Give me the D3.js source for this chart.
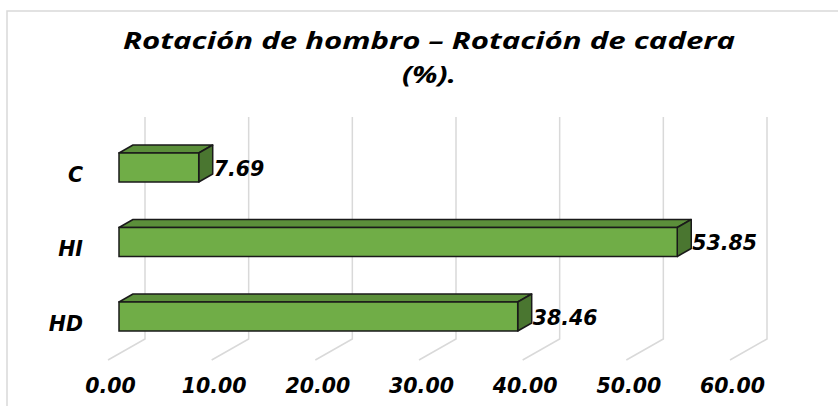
<!DOCTYPE html>
<html>
<head>
<meta charset="utf-8">
<script src="https://cdn.jsdelivr.net/npm/d3@7"></script>
<style>
  body { margin: 0; background: #fff; }
  svg { display: block; }
</style>
</head>
<body>
<svg width="838" height="406"></svg>
<script>
// datos
const categorias = ['C', 'HI', 'HD'];
const valores = [7.69, 53.85, 38.46];
const ticks = [0, 10, 20, 30, 40, 50, 60];
const titulo = ['Rotación de hombro – Rotación de cadera', '(%).'];

const svg = d3.select('svg');

// borde del area del grafico
svg.append('path')
  .attr('d', 'M7,406 L7,11 L838,11')
  .attr('fill', 'none')
  .attr('stroke', '#d9d9d9')
  .attr('stroke-width', 1.5);

// pared de fondo y profundidad
const depth = {dx: -37, dy: 21};
const barDepth = {dx: 14, dy: -8};
const wallTop = 117, wallBottom = 339;

const xBack = d3.scaleLinear().domain([0, 60]).range([145, 767]);
const xFloor = d3.scaleLinear().domain([0, 60]).range([145 + depth.dx, 767 + depth.dx]);
const xBar = d3.scaleLinear().domain([0, 60]).range([119, 119 + 622]);

const y = d3.scalePoint().domain(categorias).range([167.5, 316.5]);
const barH = 29;

const fuente = 'italic bold 20.5px "DejaVu Sans"';

// lineas de division
svg.append('g').selectAll('path').data(ticks)
  .enter().append('path')
    .attr('d', d => `M${xBack(d)},${wallTop} L${xBack(d)},${wallBottom} L${xFloor(d)},${wallBottom + depth.dy}`)
    .attr('fill', 'none')
    .attr('stroke', '#d9d9d9')
    .attr('stroke-width', 1.5);

// barras 3D
const data = categorias.map((c, i) => ({cat: c, val: valores[i]}));
const bars = svg.append('g').selectAll('g').data(data).enter().append('g');

const x0 = xBar(0);
bars.append('path') // cara superior
  .attr('d', d => {
    const t = y(d.cat) - barH / 2, x1 = xBar(d.val);
    return `M${x0},${t} L${x0 + barDepth.dx},${t + barDepth.dy} L${x1 + barDepth.dx},${t + barDepth.dy} L${x1},${t} Z`;
  })
  .attr('fill', '#5b8f3a')
  .attr('stroke', '#1a1a1a')
  .attr('stroke-width', 1.5)
  .attr('stroke-linejoin', 'round');

bars.append('path') // cara lateral
  .attr('d', d => {
    const t = y(d.cat) - barH / 2, x1 = xBar(d.val);
    return `M${x1},${t} L${x1 + barDepth.dx},${t + barDepth.dy} L${x1 + barDepth.dx},${t + barH + barDepth.dy} L${x1},${t + barH} Z`;
  })
  .attr('fill', '#4a7630')
  .attr('stroke', '#1a1a1a')
  .attr('stroke-width', 1.5)
  .attr('stroke-linejoin', 'round');

bars.append('rect') // cara frontal
  .attr('x', x0)
  .attr('y', d => y(d.cat) - barH / 2)
  .attr('width', d => xBar(d.val) - x0)
  .attr('height', barH)
  .attr('fill', '#70ad47')
  .attr('stroke', '#1a1a1a')
  .attr('stroke-width', 1.5);

// etiquetas de datos
bars.append('text')
  .attr('x', d => xBar(d.val) + barDepth.dx + 1)
  .attr('y', d => y(d.cat) + 1)
  .attr('dominant-baseline', 'central')
  .style('font', fuente)
  .style('fill', '#000')
  .text(d => d.val.toFixed(2));

// eje de categorias
const yAxis = svg.append('g')
  .attr('transform', 'translate(83,7)')
  .call(d3.axisLeft(y).tickSize(0).tickPadding(0));
yAxis.select('.domain').remove();
yAxis.selectAll('text')
  .style('font', fuente)
  .style('fill', '#000');

// eje de valores
const xAxis = svg.append('g')
  .attr('transform', 'translate(2,378)')
  .call(d3.axisBottom(xFloor).tickValues(ticks).tickFormat(d3.format('.2f')).tickSize(0).tickPadding(0));
xAxis.select('.domain').remove();
xAxis.selectAll('text')
  .style('font', fuente)
  .style('fill', '#000');

// titulo
const anchoTitulo = [612, 54];
svg.append('g').selectAll('text').data(titulo)
  .enter().append('text')
    .attr('x', (d, i) => 429 - anchoTitulo[i] / 2)
    .attr('y', (d, i) => 49 + i * 34)
    .attr('textLength', (d, i) => anchoTitulo[i])
    .attr('lengthAdjust', 'spacingAndGlyphs')
    .style('font', 'italic bold 24px "Open Sans"')
    .style('fill', '#000')
    .text(d => d);
</script>
</body>
</html>
